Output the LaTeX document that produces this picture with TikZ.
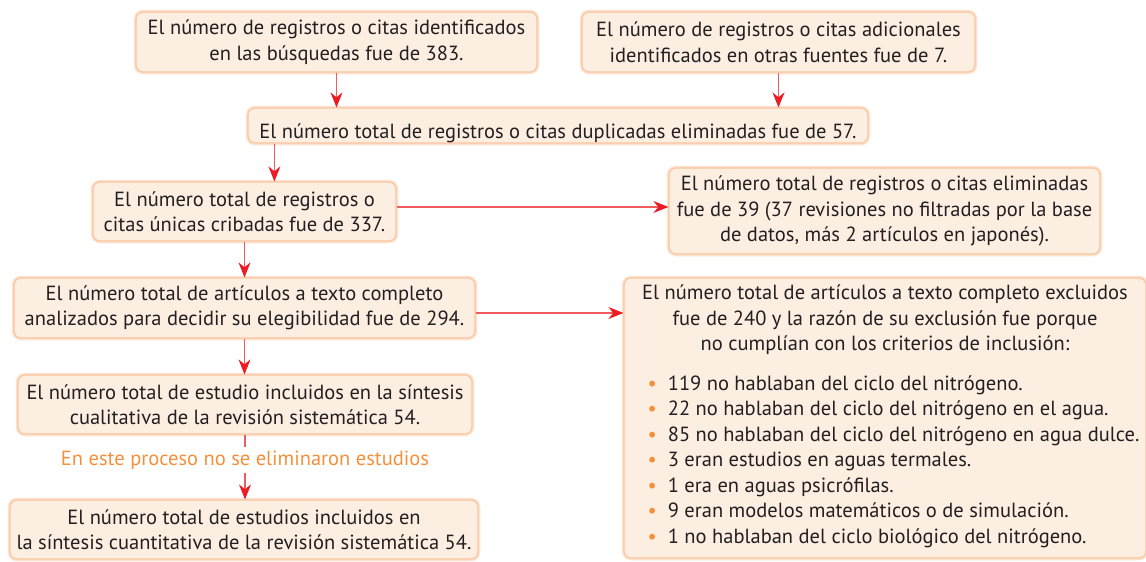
\documentclass[tikz,border=0pt]{standalone}
\usepackage{fontspec}
\setmainfont{PT Sans}
\usepackage{xcolor}
\usepackage{tikz}
\usetikzlibrary{arrows.meta,positioning}
\definecolor{boxfill}{HTML}{FDEEE2}
\definecolor{boxline}{HTML}{F9C6A0}
\definecolor{boxglow}{HTML}{FDE2CF}
\definecolor{arrowred}{HTML}{ED1C24}
\definecolor{linered}{HTML}{EF5B5F}
\definecolor{textgray}{HTML}{231F20}
\definecolor{noteorange}{HTML}{F4903A}
\newcommand{\itm}{{\color{noteorange}\textbullet}\hspace{11pt}}

\begin{document}
\begin{tikzpicture}[x=1pt,y=-1pt,
box/.style={draw=boxline, line width=1.2pt, fill=boxfill, rounded corners=7pt,
 preaction={draw=boxglow, line width=4.5pt}, text=textgray,
 font=\fontsize{20.5}{25.5}\selectfont, align=center, inner sep=0pt,
 execute at begin node=\rule{0pt}{30pt}},
flow/.style={draw=linered, line width=1.6pt, -{Stealth[length=15pt,width=12pt,color=arrowred]}}]
\useasboundingbox (0,0) rectangle (1146,562);
\node[box, minimum width=401pt, minimum height=60pt] (srch) at (336.5,42)
 {El número de registros o citas identificados\\en las búsquedas fue de 383.};
\node[box, minimum width=393pt, minimum height=60pt] (othr) at (778.5,42)
 {El número de registros o citas adicionales\\identificados en otras fuentes fue de 7.};
\node[box, minimum width=620pt, minimum height=35pt] (dupl) at (558,125.5)
 {El número total de registros o citas duplicadas eliminadas fue de 57.};
\node[box, minimum width=303pt, minimum height=59pt] (scrn) at (244.5,211.5)
 {El número total de registros o\\citas únicas cribadas fue de 337.};
\node[box, minimum width=431pt, minimum height=86pt] (elim) at (884.5,211)
 {El número total de registros o citas eliminadas\\fue de 39 (37 revisiones no filtradas por la base\\de datos, más 2 artículos en japonés).};
\node[box, minimum width=461pt, minimum height=60pt] (full) at (244.5,308)
 {El número total de artículos a texto completo\\analizados para decidir su elegibilidad fue de 294.};
\node[box, minimum width=522pt, minimum height=280pt] (excl) at (885,418)
 {El número total de artículos a texto completo excluidos\\
  fue de 240 y la razón de su exclusión fue porque\\
  no cumplían con los criterios de inclusión:\\[16.5pt]
  \hspace*{17pt}\begin{tabular}{@{}l@{}}
  \itm 119 no hablaban del ciclo del nitrógeno.\\
  \itm 22 no hablaban del ciclo del nitrógeno en el agua.\\
  \itm 85 no hablaban del ciclo del nitrógeno en agua dulce.\\
  \itm 3 eran estudios en aguas termales.\\
  \itm 1 era en aguas psicrófilas.\\
  \itm 9 eran modelos matemáticos o de simulación.\\
  \itm 1 no hablaban del ciclo biológico del nitrógeno.
  \end{tabular}};
\node[box, minimum width=454pt, minimum height=59pt] (qual) at (245,404.5)
 {El número total de estudio incluidos en la síntesis\\cualitativa de la revisión sistemática 54.};
\node[text=noteorange, font=\fontsize{20.5}{25}\selectfont, inner sep=3pt] (note) at (245,460)
 {En este proceso no se eliminaron estudios};
\node[box, minimum width=468pt, minimum height=59pt] (quan) at (244,529.5)
 {El número total de estudios incluidos en\\la síntesis cuantitativa de la revisión sistemática 54.};
\coordinate (c1) at ([xshift=27pt]dupl.south west);
\coordinate (d1) at ([yshift=4.5pt]scrn.east);
\coordinate (f1) at ([yshift=-5pt]full.east);
\draw[flow] (srch.south) -- (srch.south |- dupl.north);
\draw[flow] (othr.south) -- (othr.south |- dupl.north);
\draw[flow] (c1) -- (c1 |- scrn.north);
\draw[flow] (d1) -- (d1 -| elim.west);
\draw[flow] (scrn.south) -- (scrn.south |- full.north);
\draw[flow] (f1) -- (f1 -| excl.west);
\draw[flow] (full.south) -- (full.south |- qual.north);
\draw[draw=linered, line width=1.6pt] (qual.south) -- (note.north);
\draw[flow] (note.south) -- (note.south |- quan.north);
\end{tikzpicture}
\end{document}
